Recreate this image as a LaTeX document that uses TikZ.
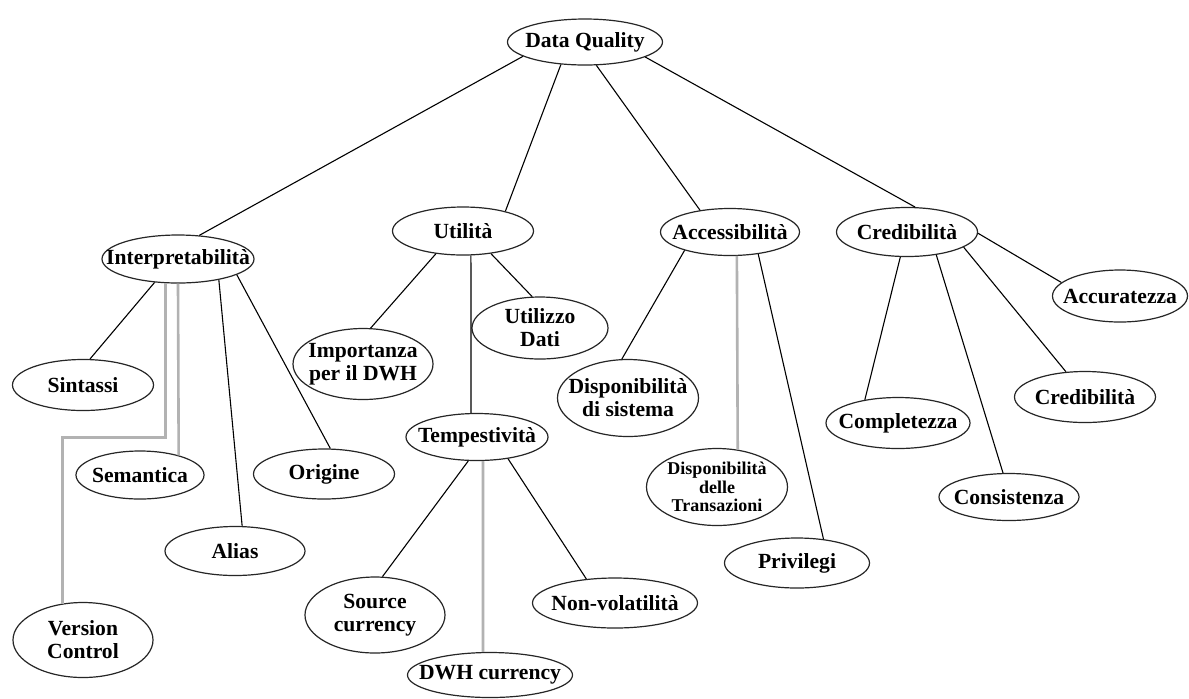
\documentclass[tikz,border=0pt]{standalone}
\usepackage{fontspec}
\setmainfont{Liberation Serif}
\usetikzlibrary{shapes.geometric}
\tikzset{
  el/.style 2 args={ellipse, draw=black!85, line width=0.6pt, fill=white,
    minimum width=#1*0.5pt, minimum height=#2*0.5pt, inner sep=0pt},
  lbl/.style={font=\fontsize{10.8}{11.5}\selectfont\bfseries, align=center, inner sep=0pt},
  small/.style={font=\fontsize{9}{9.2}\selectfont\bfseries, align=center, inner sep=0pt},
  conn/.style={draw=black, line width=0.55pt},
  gconn/.style={draw=gray!60, line width=1.3pt},
}
\begin{document}
\begin{tikzpicture}[x=0.5pt,y=-0.5pt]
\useasboundingbox[fill=white] (0,0) rectangle (1189,698);
% nodes
\node[el={155}{46}, label={[lbl]center:Data Quality}] (dq) at (585,42) {};
\node[el={152}{48}, label={[lbl]center:Interpretabilità}] (interp) at (178,259) {};
\node[el={141}{48}, label={[lbl]center:Utilità}] (util) at (463,231) {};
\node[el={139}{47}, label={[lbl]center:Accessibilità}] (acc) at (730,232) {};
\node[el={141}{49}, label={[lbl]center:Credibilità}] (cred) at (907,232) {};
\node[el={141}{51}, label={[lbl]center:Sintassi}] (sin) at (83,385) {};
\node[el={128}{48}, label={[lbl]center:Semantica}] (sem) at (140,475) {};
\node[el={140}{49}, label={[lbl]center:Alias}] (alias) at (235,551) {};
\node[el={141}{50}, label={[lbl]center:Origine}] (orig) at (324,474) {};
\node[el={140}{75}, label={[lbl]center:{Version\\Control}}] (vc) at (83,640) {};
\node[el={140}{71}, label={[lbl]center:{Importanza\\per il DWH}}] (imp) at (363,364) {};
\node[el={136}{62}, label={[lbl]center:{Utilizzo\\Dati}}] (uso) at (540,328) {};
\node[el={142}{47}, label={[lbl]center:Tempestività}] (temp) at (477,437) {};
\node[el={140}{76}, label={[lbl]center:{Source\\currency}}] (src) at (375,615) {};
\node[el={165}{45}, label={[lbl]center:DWH currency}] (dwh) at (490,675) {};
\node[el={165}{50}, label={[lbl]center:Non-volatilità}] (nonv) at (615,603) {};
\node[el={141}{77}, label={[lbl]center:{Disponibilità\\di sistema}}] (dsis) at (628,398) {};
\node[el={141}{77}, label={[small]center:{Disponibilità\\delle\\Transazioni}}] (dtra) at (717,487) {};
\node[el={145}{50}, label={[lbl]center:Privilegi}] (priv) at (797,563) {};
\node[el={135}{52}, label={[lbl]center:Accuratezza}] (accu) at (1120,296) {};
\node[el={141}{51}, label={[lbl]center:Credibilità}] (cred2) at (1085,397) {};
\node[el={144}{51}, label={[lbl]center:Completezza}] (comp) at (898,423) {};
\node[el={140}{47}, label={[lbl]center:Consistenza}] (cons) at (1009,497) {};
% top level
\draw[conn] (dq.193) -- (interp.48);
\draw[conn] (dq.223) -- (util.25);
\draw[conn] (dq.296) -- (acc.144);
\draw[conn] (dq.346) -- (cred.72);
% interpretabilita
\draw[conn] (interp.225) -- (sin.75);
\draw[gconn] (interp.270) -- (sem.27);
\draw[gconn] (interp.243) -- ++(0,154) -| (vc.119);
\draw[conn] (interp.333) -- (alias.74);
\draw[conn] (interp.345) -- (orig.76);
% utilita
\draw[conn] (util.220) -- (imp.78);
\draw[conn] (util.321) -- (uso.104);
\draw[conn] (util.288.5) -- (temp.104.4);
% tempestivita
\draw[conn] (temp.250) -- (src.79);
\draw[gconn] (temp.284.4) -- (dwh.107.4);
\draw[conn] (temp.325) -- (nonv.140);
% accessibilita
\draw[conn] (acc.202.6) -- (dsis.99);
\draw[gconn] (acc.286.7) -- (dtra.61.5);
\draw[conn] (acc.322) -- (priv.42);
% credibilita
\draw[conn] (cred.255) -- (comp.145);
\draw[conn] (cred.322) -- (cons.104);
\draw[conn] (cred.345) -- (cred2.127);
\draw[conn] (cred.359) -- (accu.167);
\end{tikzpicture}
\end{document}
